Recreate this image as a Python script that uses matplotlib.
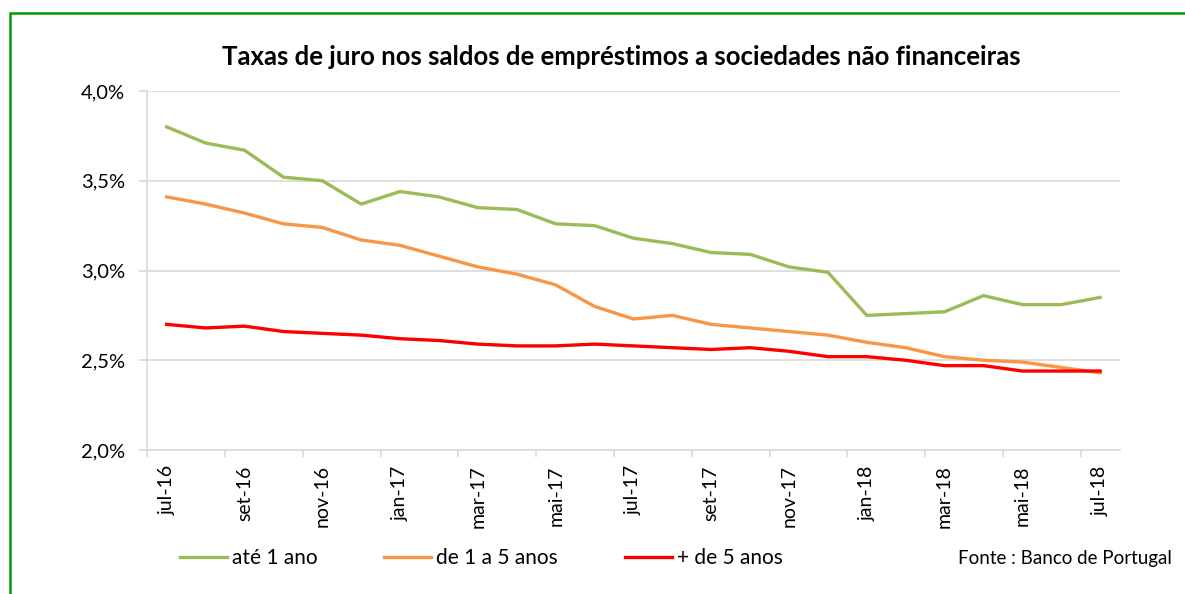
import matplotlib.pyplot as plt
import numpy as np
from matplotlib.patches import Rectangle

plt.rcParams['font.family'] = ['Lato', 'DejaVu Sans']

# Monthly data, jul-16 .. jul-18 (%)
months = ['jul-16', 'ago-16', 'set-16', 'out-16', 'nov-16', 'dez-16',
          'jan-17', 'fev-17', 'mar-17', 'abr-17', 'mai-17', 'jun-17',
          'jul-17', 'ago-17', 'set-17', 'out-17', 'nov-17', 'dez-17',
          'jan-18', 'fev-18', 'mar-18', 'abr-18', 'mai-18', 'jun-18', 'jul-18']

ate_1_ano = [3.80, 3.71, 3.67, 3.52, 3.50, 3.37, 3.44, 3.41, 3.35, 3.34,
             3.26, 3.25, 3.18, 3.15, 3.10, 3.09, 3.02, 2.99, 2.75, 2.76,
             2.77, 2.86, 2.81, 2.81, 2.85]
de_1_a_5 = [3.41, 3.37, 3.32, 3.26, 3.24, 3.17, 3.14, 3.08, 3.02, 2.98,
            2.92, 2.80, 2.73, 2.75, 2.70, 2.68, 2.66, 2.64, 2.60, 2.57,
            2.52, 2.50, 2.49, 2.46, 2.43]
mais_5 = [2.70, 2.68, 2.69, 2.66, 2.65, 2.64, 2.62, 2.61, 2.59, 2.58,
          2.58, 2.59, 2.58, 2.57, 2.56, 2.57, 2.55, 2.52, 2.52, 2.50,
          2.47, 2.47, 2.44, 2.44, 2.44]

x = np.arange(len(months))
grid_col = '#D9D9D9'

fig = plt.figure(figsize=(11.85, 5.94), dpi=100)
ax = fig.add_axes([0.1243, 0.2424, 0.8205, 0.6044])

ax.plot(x, ate_1_ano, color='#9BBB59', lw=2.4, label='até 1 ano', zorder=3)
ax.plot(x, de_1_a_5, color='#F79646', lw=2.4, label='de 1 a 5 anos', zorder=3)
ax.plot(x, mais_5, color='#FF0000', lw=2.4, label='+ de 5 anos', zorder=4)

ax.set_xlim(-0.5, len(months) - 0.5)
ax.set_ylim(2.0, 4.0)
yt = [2.0, 2.5, 3.0, 3.5, 4.0]
ax.set_yticks(yt)
ax.set_yticklabels([f'{v:.1f}%'.replace('.', ',') for v in yt], fontsize=14.5)
ax.yaxis.grid(True, color=grid_col, lw=1.2)
ax.tick_params(axis='y', length=6, color=grid_col, width=1.2, pad=10)

# labels on every 2nd month, tick marks between categories
ax.set_xticks(x[::2])
ax.set_xticklabels(months[::2], rotation=90, fontsize=14)
ax.set_xticks(np.arange(-0.5, len(months) - 1, 2), minor=True)
ax.tick_params(axis='x', which='major', length=0, pad=11)
ax.tick_params(axis='x', which='minor', length=5, color=grid_col, width=1.2)

for s in ['top', 'right']:
    ax.spines[s].set_visible(False)
for s in ['left', 'bottom']:
    ax.spines[s].set_color(grid_col)
    ax.spines[s].set_linewidth(1.2)

fig.text(0.524, 0.904, 'Taxas de juro nos saldos de empréstimos a sociedades não financeiras',
         ha='center', va='center', fontsize=18.5, fontweight='bold')

ax.legend(loc='center left', bbox_to_anchor=(0.136, 0.06), bbox_transform=fig.transFigure,
          ncol=3, frameon=False, fontsize=15, handlelength=2.25,
          handletextpad=0.25, columnspacing=3.2)

fig.text(0.989, 0.06, 'Fonte : Banco de Portugal', ha='right', va='center', fontsize=13.5)

# green frame
fig.patches.append(Rectangle((10 / 1185, -0.05), 1.1, 1 - 13 / 594 + 0.05,
                             transform=fig.transFigure, fill=False,
                             edgecolor='#009900', lw=1.8, clip_on=False))

fig.savefig('out.png', dpi=100)
